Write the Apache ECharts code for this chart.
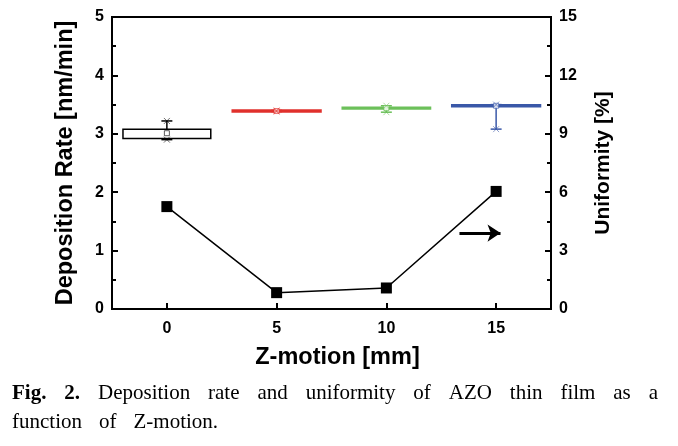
<!DOCTYPE html>
<html><head><meta charset="utf-8">
<script src="https://cdn.jsdelivr.net/npm/echarts@6/dist/echarts.min.js"></script>
<style>html,body{margin:0;padding:0;background:#fff}#c{width:678px;height:446px}</style>
</head><body><div id="c"></div>
<script>
// Z-motion positions [mm]
const zMotion = [0, 5, 10, 15];
// Deposition rate box data: [whiskerLow, q1, mean, q3, whiskerHigh]
const rateLow  = [2.90, 3.38, 3.37, 3.08];
const rateQ1   = [2.92, 3.38, 3.43, 3.47];
const rateMean = [3.01, 3.39, 3.44, 3.48];
const rateQ3   = [3.08, 3.40, 3.45, 3.49];
const rateHigh = [3.22, 3.40, 3.48, 3.50];
const boxColors = ['#000000', '#e0302c', '#6cc05a', '#3a58a8'];
// Uniformity [%]
const uniformity = [5.26, 0.84, 1.08, 6.04];
const xTicks = [0, 5, 10, 15];
const arrowY = 3.9;        // on uniformity axis
const arrowX = [13.33, 15.2];
// caption
const captionLine1 = ['Fig.', '2.', 'Deposition', 'rate', 'and', 'uniformity', 'of', 'AZO', 'thin', 'film', 'as', 'a'];
const captionLine2 = ['function', 'of', 'Z-motion.'];

const boxHalf = 2, capHalf = 0.25;
const boxData = zMotion.map((z, i) => [z, rateLow[i], rateQ1[i], rateMean[i], rateQ3[i], rateHigh[i], i]);

const chart = echarts.init(document.getElementById('c'));
const axisFont = {fontFamily: 'Liberation Sans, Arial', fontWeight: 'bold', color: '#000'};
chart.setOption({
  animation: false,
  grid: {left: 112, right: 127, top: 17, bottom: 137, show: true, borderColor: '#000', borderWidth: 2, backgroundColor: 'transparent'},
  xAxis: {
    type: 'value', min: -2.5, max: 17.5,
    name: 'Z-motion [mm]', nameLocation: 'middle', nameGap: 37,
    nameTextStyle: Object.assign({fontSize: 23.5, padding: [0, 0, 0, 12]}, axisFont),
    axisLine: {show: true, onZero: false, lineStyle: {color: '#000', width: 2}},
    axisTick: {show: true, inside: true, length: 6, customValues: xTicks, lineStyle: {width: 2, color: '#000'}},
    axisLabel: Object.assign({fontSize: 16, margin: 12, customValues: xTicks}, axisFont),
    splitLine: {show: false}
  },
  yAxis: [{
    type: 'value', min: 0, max: 5, interval: 1, position: 'left',
    name: 'Deposition Rate [nm/min]', nameLocation: 'middle', nameGap: 34,
    nameTextStyle: Object.assign({fontSize: 23.5}, axisFont),
    axisLine: {show: true, onZero: false, lineStyle: {color: '#000', width: 2}},
    axisTick: {show: true, inside: true, length: 6, lineStyle: {width: 2, color: '#000'}},
    minorTick: {show: true, splitNumber: 2, length: 4, lineStyle: {width: 2, color: '#000'}},
    axisLabel: Object.assign({fontSize: 16, margin: 8}, axisFont),
    splitLine: {show: false}
  }, {
    type: 'value', min: 0, max: 15, interval: 3, position: 'right',
    name: 'Uniformity [%]', nameLocation: 'middle', nameGap: 42, nameRotate: 90,
    nameTextStyle: Object.assign({fontSize: 21}, axisFont),
    axisLine: {show: true, onZero: false, lineStyle: {color: '#000', width: 2}},
    axisTick: {show: true, inside: true, length: 6, lineStyle: {width: 2, color: '#000'}},
    minorTick: {show: true, splitNumber: 2, length: 4, lineStyle: {width: 2, color: '#000'}},
    axisLabel: Object.assign({fontSize: 16, margin: 8}, axisFont),
    splitLine: {show: false}
  }],
  series: [{
    type: 'custom', yAxisIndex: 0, data: boxData,
    encode: {x: 0, y: [1, 2, 3, 4, 5]},
    renderItem: function (params, api) {
      const z = api.value(0), idx = api.value(6);
      const col = boxColors[idx];
      const pL = api.coord([z - boxHalf, api.value(4)]);
      const pR = api.coord([z + boxHalf, api.value(2)]);
      const top = api.coord([z, api.value(5)]);
      const bot = api.coord([z, api.value(1)]);
      const capL = api.coord([z - capHalf, 0])[0], capR = api.coord([z + capHalf, 0])[0];
      const mean = api.coord([z, api.value(3)]);
      const lw = idx === 0 ? 1.5 : (idx === 2 ? 2 : 2.5);
      const ch = [];
      ch.push({type: 'line', shape: {x1: top[0], y1: top[1], x2: bot[0], y2: bot[1]}, style: {stroke: col, lineWidth: 1.5}});
      ch.push({type: 'line', shape: {x1: capL, y1: top[1], x2: capR, y2: top[1]}, style: {stroke: col, lineWidth: 1.5}});
      ch.push({type: 'line', shape: {x1: capL, y1: bot[1], x2: capR, y2: bot[1]}, style: {stroke: col, lineWidth: 1.5}});
      ch.push({type: 'rect', shape: {x: pL[0], y: pL[1], width: pR[0] - pL[0], height: Math.max(pR[1] - pL[1], 0.5)}, style: {stroke: col, lineWidth: lw, fill: '#fff'}});
      ch.push({type: 'rect', shape: {x: mean[0] - 2.5, y: mean[1] - 2.5, width: 5, height: 5}, style: {stroke: col, lineWidth: 0.8, fill: '#fff', opacity: 0.8}});
      [top, bot].forEach(p => {
        ch.push({type: 'line', shape: {x1: p[0] - 3, y1: p[1] - 3, x2: p[0] + 3, y2: p[1] + 3}, style: {stroke: col, lineWidth: 0.8, opacity: 0.7}});
        ch.push({type: 'line', shape: {x1: p[0] - 3, y1: p[1] + 3, x2: p[0] + 3, y2: p[1] - 3}, style: {stroke: col, lineWidth: 0.8, opacity: 0.7}});
      });
      return {type: 'group', children: ch};
    },
    z: 3
  }, {
    type: 'line', yAxisIndex: 1,
    data: zMotion.map((z, i) => [z, uniformity[i]]),
    symbol: 'rect', symbolSize: 11,
    lineStyle: {color: '#000', width: 1.5},
    itemStyle: {color: '#000'},
    markLine: {
      silent: true, symbol: ['none', 'arrow'], symbolSize: [13, 13],
      label: {show: false},
      lineStyle: {color: '#000', width: 3, type: 'solid'},
      data: [[{coord: [arrowX[0], arrowY]}, {coord: [arrowX[1], arrowY]}]]
    },
    z: 4
  }]
});

// Justified caption (text laid out with measured widths)
(function () {
  const serif = 'Liberation Serif, Times New Roman, serif';
  const ctx = document.createElement('canvas').getContext('2d');
  const fontOf = b => (b ? 'bold ' : '') + '21px ' + serif;
  const left = 12, right = 658;
  const els = [];
  function place(words, top, justify, gapDefault) {
    const widths = words.map((w, i) => { ctx.font = fontOf(words === captionLine1 && i < 2); return ctx.measureText(w).width; });
    const total = widths.reduce((a, b) => a + b, 0);
    const gap = justify ? (right - left - total) / (words.length - 1) : gapDefault;
    let x = left;
    words.forEach((w, i) => {
      els.push({type: 'text', x: x, y: top, style: {text: w, font: fontOf(words === captionLine1 && i < 2), fill: '#000'}});
      x += widths[i] + gap;
    });
  }
  place(captionLine1, 383, true);
  place(captionLine2, 412, false, 17);
  chart.setOption({graphic: els});
})();
</script></body></html>
